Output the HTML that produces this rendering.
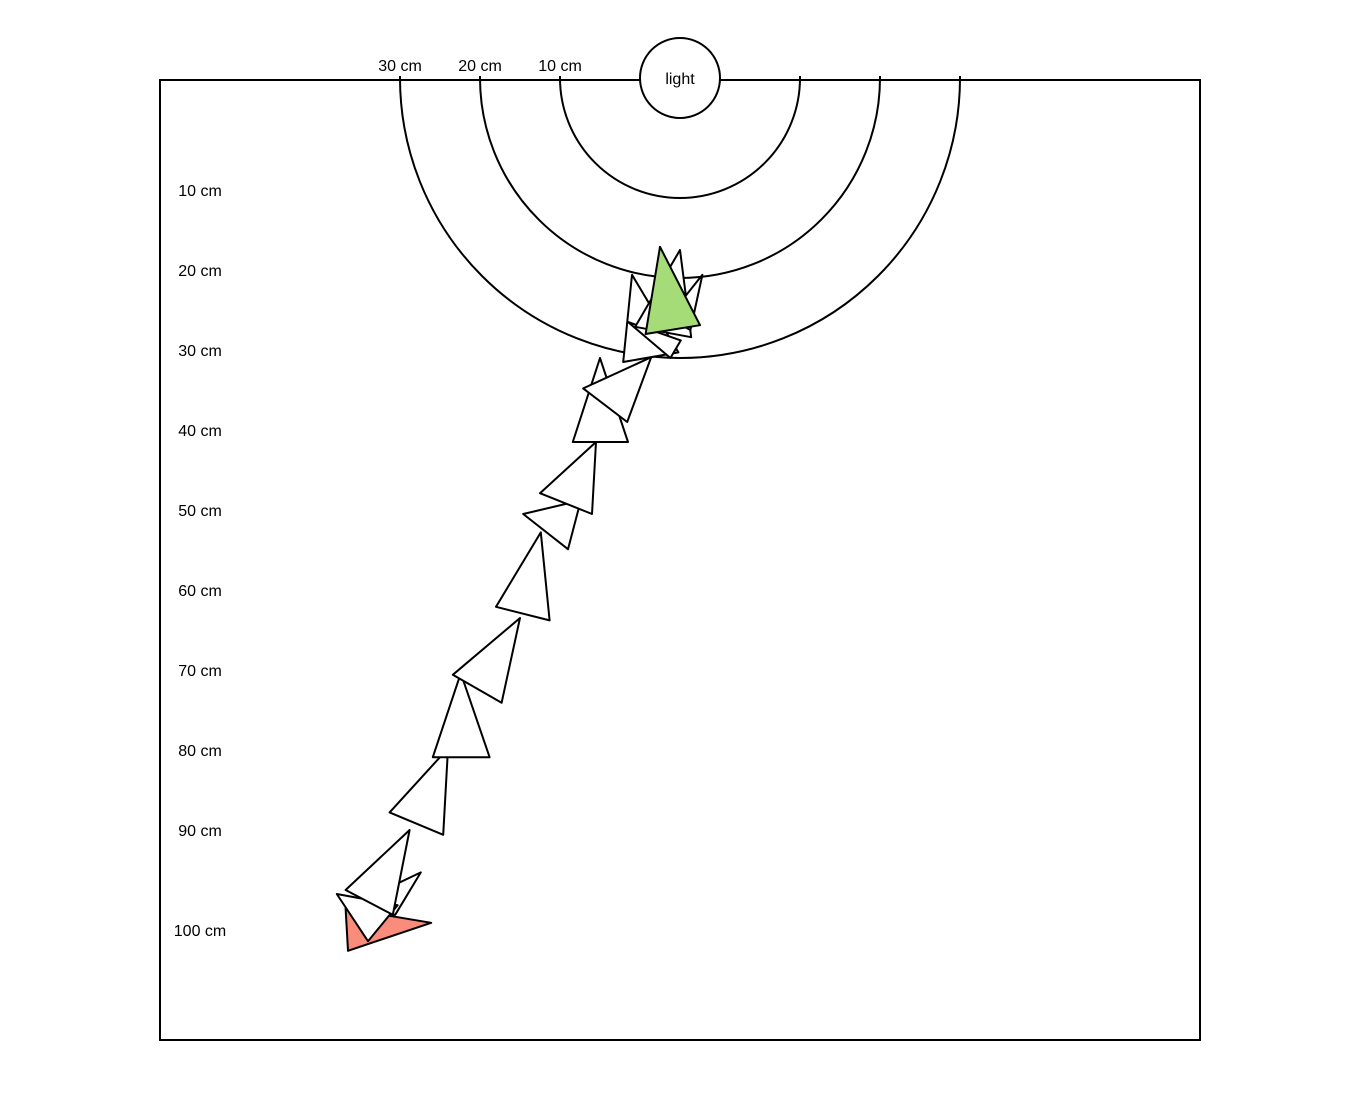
<!DOCTYPE html>
<html><head><meta charset="utf-8">
<style>
html,body{margin:0;padding:0;background:#fff;}
svg{display:block;font-family:"Liberation Sans",sans-serif;}
</style></head>
<body>
<svg id="chart" width="1358" height="1116" viewBox="0 0 1358 1116" xmlns="http://www.w3.org/2000/svg">
<rect x="160" y="80" width="1040" height="960" fill="none" stroke="#000" stroke-width="2"/>
<g id="rings"></g>
<g id="ylabels"></g>
<g id="tris"></g>
<g>
<circle cx="680" cy="78" r="40" fill="#fff" stroke="#000" stroke-width="2"/>
<text x="680" y="84" text-anchor="middle" font-size="16">light</text>
</g>
</svg>
<script>
// distance rings (cm)
const ringCm = [10, 20, 30];
// y-axis tick labels
const yTicks = [10,20,30,40,50,60,70,80,90,100];
const yTickPos = [190,270,350,430,510,590,670,750,830,930];
// triangle vertices in cm (x relative to light, y down from light)
const triX = [
 [-41.8,-31.1,-41.5],[-32.4,-35.6,-41.0],[-42.9,-39.0,-35.3],[-41.8,-33.8,-35.9],
 [-36.3,-29.0,-29.6],[-27.4,-30.9,-23.8],[-28.4,-20.0,-22.3],[-17.4,-23.0,-16.3],
 [-19.6,-14.0,-12.4],[-17.5,-10.5,-11.0],[-10.0,-13.4,-6.5],[-12.1,-6.6,-3.6],
 [-6.0,-7.1,-0.2],[-6.5,-1.2,0.1],[0.0,-5.6,1.4],[2.8,-1.5,1.3],[-2.5,2.5,-4.3]
];
const triY = [
 [103.8,105.6,109.1],[99.3,104.6,103.4],[102.0,107.9,103.4],[101.5,94.0,104.6],
 [91.8,83.8,94.6],[74.4,84.9,84.9],[74.6,67.5,78.1],[56.8,66.1,67.8],
 [54.5,58.9,52.8],[51.9,45.5,54.5],[35.0,45.5,45.5],[38.8,43.0,34.9],
 [24.6,35.5,34.3],[30.5,35.0,32.8],[21.5,31.1,32.4],[24.6,30.0,31.5],[21.1,30.9,32.0]
];
const NS='http://www.w3.org/2000/svg';
const X = cm => 680 + 8*cm;
const Y = cm => 78 + 8*cm;
const R = cm => 40 + 8*cm;
const rings = document.getElementById('rings');
ringCm.forEach(c=>{
  const r=R(c);
  const p=document.createElementNS(NS,'path');
  p.setAttribute('d',`M${680-r},76 L${680-r},78 A${r},${r} 0 0 0 ${680+r},78 L${680+r},76`);
  p.setAttribute('fill','none');p.setAttribute('stroke','#000');p.setAttribute('stroke-width','2');
  
  
  rings.appendChild(p);
  const t=document.createElementNS(NS,'text');
  t.setAttribute('x',680-r);t.setAttribute('y',71);t.setAttribute('text-anchor','middle');t.setAttribute('font-size','16');
  t.textContent=c+' cm';
  
  
  rings.appendChild(t);
});
const yl=document.getElementById('ylabels');
yTicks.forEach((v,i)=>{
  const t=document.createElementNS(NS,'text');
  t.setAttribute('x',200);t.setAttribute('y',yTickPos[i]+6);t.setAttribute('text-anchor','middle');t.setAttribute('font-size','16');
  t.textContent=v+' cm';
  
  
  yl.appendChild(t);
});
const tg=document.getElementById('tris');
triX.forEach((xs,i)=>{
  const ys=triY[i];
  const p=document.createElementNS(NS,'polygon');
  p.setAttribute('points',xs.map((x,k)=>X(x)+','+Y(ys[k])).join(' '));
  let fill='#fff';
  if(i===0) fill='#fa8c7c';
  if(i===triX.length-1) fill='#a6dc78';
  p.setAttribute('fill',fill);p.setAttribute('stroke','#000');p.setAttribute('stroke-width','2');
  p.setAttribute('stroke-linejoin','round');
  
  
  tg.appendChild(p);
});
</script>
</body></html>
